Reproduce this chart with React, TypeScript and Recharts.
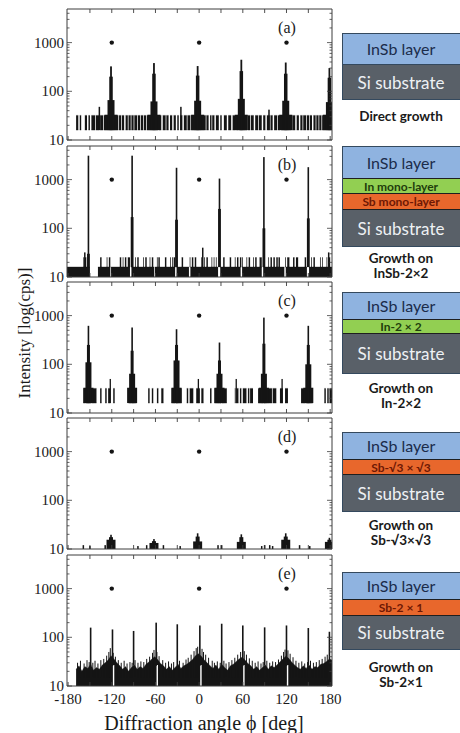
import React from "react";
import { ComposedChart, Area, Bar, Scatter, XAxis, YAxis, ReferenceLine } from "recharts";

type Seg = [number, number];
type Layer = { x: number[]; lo: number; top: number[]; size: number; fill?: string };

const INK = "#151515";
const AXIS = "#3c3c3c";
const SERIF = "'Liberation Serif', 'Times New Roman', serif";
const SANS = "Lato, 'Open Sans', sans-serif";

const X_DOMAIN: [number, number] = [-181.5, 182.5];
const Y_DOMAIN: [number, number] = [10, 4900];
const yTicks = [10, 20, 30, 40, 50, 60, 70, 80, 90, 100, 200, 300, 400, 500, 600, 700, 800, 900, 1000, 2000, 3000, 4000];
const yLabels = [10, 100, 1000];
const xTopTicks = [-150, -120, -90, -60, -30, 0, 30, 60, 90, 120, 150];
const xBottomTicks = [-180, -150, -120, -90, -60, -30, 0, 30, 60, 90, 120, 150, 180];
const xLabels = [-180, -120, -60, 0, 60, 120, 180];
const dotX = [-120, 0, 120];
const dotLevel = 1000;

// (a) direct growth
const aBand: Seg[] = [
  [-169, -166], [-164, -162], [-157, -154], [-152, -150], [-148, -143], [-142, -137], [-136, -132], [-131, -111],
  [-110, -107], [-106, -103], [-101, -98], [-97, -94], [-93, -90], [-89, -85], [-84, -81], [-80, -77], [-76, -73],
  [-72, -56], [-55, -52], [-50, -46], [-45, -42], [-40, -37], [-35, -32], [-30, -28], [-26, -23], [-21, -17],
  [-16, -12], [-11, 9], [10, 13], [15, 17], [18, 21], [23, 27], [29, 31], [34, 38], [40, 44], [46, 50], [51, 54],
  [55, 66], [67, 70], [71, 75], [77, 81], [82, 86], [88, 91], [93, 97], [98, 101], [103, 107], [108, 111],
  [112, 127], [128, 132], [134, 137], [139, 142], [143, 147], [148, 151], [152, 155], [157, 160], [161, 164],
  [165, 168], [169, 182.5],
];
const aPeakX = [-121, -62, -2, 58, 119, 179];
const aFoot = [33, 33, 33, 33, 33, 33];
const aShoulder = [66, 62, 64, 70, 64, 60];
const aMid = [200, 230, 210, 260, 230, 190];
const aTip = [325, 380, 330, 445, 390, 300];
const aTallX = [-137, -25, 96];
const aTallTop = [48, 48, 42];

// (b) growth on InSb-2x2
const bBase: Seg[] = [
  [-181.5, -150], [-139, -122], [-121, -95], [-93, -62], [-61, -33], [-31, -14], [-12, 26], [29, 57],
  [59, 86], [88, 117], [119, 148], [151, 182.5],
];
const bNoise: Seg[] = [
  [-159, -158], [-157, -155], [-136, -134], [-127, -126], [-124, -122], [-109, -107], [-105, -104], [-102, -100],
  [-98, -95], [-88, -87], [-85, -83], [-77, -76], [-74, -72], [-68, -67], [-65, -63], [-58, -57], [-56, -54],
  [-47, -45], [-40, -39], [-37, -36], [-35, -33], [-24, -22], [-13, -12], [-10, -8], [-6, -4], [3, 5], [7, 8],
  [10, 12], [17, 18], [20, 21], [23, 24], [33, 35], [42, 44], [49, 50], [52, 54], [56, 58], [59, 60], [65, 66],
  [68, 70], [74, 75], [77, 79], [83, 86], [95, 96], [98, 100], [102, 104], [106, 108], [109, 111], [118, 119],
  [121, 124], [129, 131], [133, 136], [145, 147], [154, 155], [157, 159], [166, 167], [169, 170], [175, 176],
  [178, 180],
];
const bPeakX = [-152, -92, -31, 28, 89, 150];
const bMid = [30, 170, 150, 250, 100, 160];
const bTip = [3100, 3100, 1750, 1050, 2900, 1800];
const bTallX = [-157, 5, 178];
const bTallTop = [32, 40, 32];

// (c) growth on In-2x2
const cBand: Seg[] = [
  [-159, -157], [-156, -148], [-147, -141], [-136, -134], [-129, -127], [-125, -122], [-118, -116], [-97, -93],
  [-92, -86], [-70, -68], [-65, -63], [-58, -56], [-52, -49], [-38, -33], [-32, -24], [-17, -15], [-13, -8],
  [-4, 1], [3, 6], [15, 17], [21, 27], [28, 30], [31, 38], [49, 50], [51, 54], [56, 58], [60, 65], [67, 69],
  [70, 74], [81, 88], [89, 100], [101, 106], [111, 115], [118, 122], [140, 146], [147, 156], [172, 174],
  [176, 178], [179, 182.5],
];
const cPeakX = [-152, -92, -31, 28, 89, 150];
const cFoot = [33, 33, 33, 33, 33, 33];
const cShoulder = [110, 64, 120, 64, 64, 100];
const cMid = [250, 190, 250, 120, 265, 250];
const cTip = [617, 570, 525, 280, 910, 617];
const cTallX = [-122, -1, 51, 114];
const cTallTop = [50, 50, 50, 50];

// (d) growth on Sb-√3x√3
const dPeakX = [-121, -62, -2, 58, 119, 179];
const dFoot = [15.5, 13.3, 14.3, 14, 15.5, 14];
const dMid = [17.5, 14.5, 18, 17.5, 18, 15.5];
const dTip = [19.6, 16, 21, 20, 21, 17];
const dSpeckX = [-159, -150, -129, -84, -72, -49, -26, 26, 31, 86, 90, 97, 101, 138, 152];
const dSpeckTop = [12, 11.5, 12, 11.5, 12, 12, 11.5, 12, 12, 11.5, 12, 12, 11.5, 12, 11.5];

// (e) growth on Sb-2x1
const eEnv: [number, number][] = [
  [-169, 22], [-165, 26], [-161, 20], [-157, 25], [-153, 23], [-149, 28], [-145, 21], [-141, 24], [-137, 22],
  [-133, 27], [-129, 30], [-125, 34], [-121, 42], [-117, 36], [-113, 30], [-109, 26], [-105, 22], [-101, 25],
  [-97, 20], [-93, 24], [-89, 27], [-85, 22], [-81, 25], [-77, 23], [-73, 28], [-69, 31], [-65, 36], [-61, 40],
  [-57, 35], [-53, 29], [-49, 26], [-45, 22], [-41, 25], [-37, 21], [-33, 24], [-29, 28], [-25, 23], [-21, 26],
  [-17, 28], [-13, 31], [-9, 35], [-5, 42], [-1, 46], [3, 41], [7, 34], [11, 30], [15, 26], [19, 23], [23, 27],
  [27, 22], [31, 28], [35, 24], [39, 21], [43, 26], [47, 28], [51, 32], [55, 36], [59, 39], [63, 34], [67, 29],
  [71, 26], [75, 22], [79, 25], [83, 21], [87, 24], [91, 27], [95, 22], [99, 26], [103, 24], [107, 27], [111, 31],
  [115, 36], [119, 41], [123, 37], [127, 31], [131, 27], [135, 24], [139, 22], [143, 26], [147, 23], [151, 27],
  [155, 22], [159, 25], [163, 24], [167, 28], [171, 29], [175, 32], [179, 36], [182.5, 34],
];
const eHairs: [number, number][] = [
  [-167, 30], [-163, 33], [-158, 29], [-154, 34], [-151, 31], [-146, 30], [-143, 33], [-139, 29], [-135, 34],
  [-131, 36], [-127, 42], [-124, 50], [-122, 60], [-118, 48], [-115, 40], [-111, 34], [-107, 30], [-103, 33],
  [-99, 29], [-95, 31], [-92, 30], [-88, 34], [-84, 30], [-80, 32], [-76, 31], [-72, 36], [-68, 40], [-64, 48],
  [-62, 55], [-58, 50], [-55, 41], [-50, 34], [-46, 30], [-42, 32], [-38, 29], [-35, 31], [-27, 33], [-22, 30],
  [-18, 35], [-15, 38], [-11, 44], [-7, 52], [-4, 60], [-2, 64], [4, 58], [6, 50], [9, 44], [13, 38], [18, 33],
  [21, 30], [25, 32], [29, 30], [34, 33], [37, 29], [41, 31], [45, 34], [49, 38], [53, 44], [57, 50], [62, 52],
  [65, 44], [69, 37], [73, 33], [77, 30], [81, 32], [85, 29], [88, 31], [93, 33], [97, 30], [101, 32], [105, 31],
  [109, 35], [113, 42], [116, 50], [118, 56], [122, 54], [125, 46], [129, 39], [133, 33], [137, 30], [141, 32],
  [145, 29], [149, 31], [153, 33], [157, 30], [161, 31], [165, 34], [169, 36], [173, 40], [176, 44],
];
const eSpikeX = [-149, -119, -90, -59, -30, 1, 31, 60, 90, 120, 150, 179];
const eSpikeTop = [158, 145, 135, 200, 185, 175, 190, 175, 160, 175, 155, 130];
const eGapX = [-117.5, -57.5, 2.5, 61.5, 121.5];
const eGapTop = [27, 27, 27, 27, 27];

const PANELS: { label: string; bands: { segs: Seg[]; lo: number; hi: number }[]; env?: [number, number][]; layers: Layer[] }[] = [
  {
    label: "(a)",
    bands: [{ segs: aBand, lo: 16, hi: 32 }],
    layers: [
      { x: aPeakX, lo: 16, top: aFoot, size: 13 },
      { x: aPeakX, lo: 16, top: aShoulder, size: 7 },
      { x: aPeakX, lo: 16, top: aMid, size: 3.5 },
      { x: aPeakX, lo: 16, top: aTip, size: 1.8 },
      { x: aTallX, lo: 16, top: aTallTop, size: 1.5 },
    ],
  },
  {
    label: "(b)",
    bands: [{ segs: bBase, lo: 10, hi: 16 }, { segs: bNoise, lo: 16, hi: 25 }],
    layers: [
      { x: bPeakX, lo: 16, top: bMid, size: 2.8 },
      { x: bPeakX, lo: 16, top: bTip, size: 1.6 },
      { x: bTallX, lo: 16, top: bTallTop, size: 1.5 },
    ],
  },
  {
    label: "(c)",
    bands: [{ segs: cBand, lo: 16, hi: 32 }],
    layers: [
      { x: cPeakX, lo: 16, top: cFoot, size: 10 },
      { x: cPeakX, lo: 16, top: cShoulder, size: 6 },
      { x: cPeakX, lo: 16, top: cMid, size: 3 },
      { x: cPeakX, lo: 16, top: cTip, size: 1.6 },
      { x: cTallX, lo: 16, top: cTallTop, size: 1.3 },
    ],
  },
  {
    label: "(d)",
    bands: [],
    layers: [
      { x: dPeakX, lo: 10, top: dFoot, size: 9 },
      { x: dPeakX, lo: 10, top: dMid, size: 4 },
      { x: dPeakX, lo: 10, top: dTip, size: 1.6 },
      { x: dSpeckX, lo: 10, top: dSpeckTop, size: 1.5 },
    ],
  },
  {
    label: "(e)",
    bands: [],
    env: eEnv,
    layers: [
      { x: eHairs.map((h) => h[0]), lo: 15, top: eHairs.map((h) => h[1]), size: 1 },
      { x: eGapX, lo: 10, top: eGapTop, size: 1.4, fill: "#ffffff" },
      { x: eSpikeX, lo: 26, top: eSpikeTop, size: 1.6 },
    ],
  },
];

const PLOT_TOPS = [9, 146, 282, 418, 555];
const PLOT_H = 131;
const CHART_W = 345;

const DIAGRAMS = [
  {
    top: 33,
    stripes: [
      { text: "InSb layer", h: 30, kind: "insb" },
      { text: "Si substrate", h: 35, kind: "si" },
    ],
    caption: ["Direct growth"],
    capTop: 109,
  },
  {
    top: 146,
    stripes: [
      { text: "InSb layer", h: 31, kind: "insb" },
      { text: "In mono-layer", h: 15, kind: "in" },
      { text: "Sb mono-layer", h: 16, kind: "sb" },
      { text: "Si substrate", h: 37, kind: "si" },
    ],
    caption: ["Growth on", "InSb-2×2"],
    capTop: 251,
  },
  {
    top: 292,
    stripes: [
      { text: "InSb layer", h: 26, kind: "insb" },
      { text: "In-2 × 2", h: 14, kind: "in" },
      { text: "Si substrate", h: 40, kind: "si" },
    ],
    caption: ["Growth on", "In-2×2"],
    capTop: 381,
  },
  {
    top: 432,
    stripes: [
      { text: "InSb layer", h: 26, kind: "insb" },
      { text: "Sb-√3 × √3", h: 15, kind: "sb" },
      { text: "Si substrate", h: 37, kind: "si" },
    ],
    caption: ["Growth on", "Sb-√3×√3"],
    capTop: 518,
  },
  {
    top: 572,
    stripes: [
      { text: "InSb layer", h: 26, kind: "insb" },
      { text: "Sb-2 × 1", h: 16, kind: "sb" },
      { text: "Si substrate", h: 34, kind: "si" },
    ],
    caption: ["Growth on", "Sb-2×1"],
    capTop: 660,
  },
];

const STRIPE_STYLE: Record<string, { bg: string; color: string; size: number; weight: number }> = {
  insb: { bg: "#8fb3e0", color: "#1b2c4b", size: 16, weight: 400 },
  si: { bg: "#596068", color: "#eef1f4", size: 17, weight: 400 },
  in: { bg: "#92cf52", color: "#213d0c", size: 12, weight: 700 },
  sb: { bg: "#e8672c", color: "#6e1804", size: 12, weight: 700 },
};

function bandRows(segs: Seg[], lo: number, hi: number) {
  const out: { x: number; v: [number, number] | null }[] = [];
  segs.forEach(([s, e]) => {
    out.push({ x: s, v: [lo, hi] }, { x: e, v: [lo, hi] }, { x: e, v: null });
  });
  return out;
}

// one row per drawn bar; k points back to the layer for its width and colour
function barRows(layers: Layer[]) {
  const rows: { x: number; v: [number, number]; k: number }[] = [];
  layers.forEach((layer, k) => layer.x.forEach((x, i) => rows.push({ x, v: [layer.lo, layer.top[i]], k })));
  return rows;
}

const LeftTick = (p: any) => {
  const v = p.payload.value;
  const major = yLabels.includes(v);
  const x0 = p.x + 3;
  return (
    <g>
      <line x1={x0} x2={x0 + (major ? 5 : 2.5)} y1={p.y} y2={p.y} stroke={AXIS} strokeWidth={0.8} />
      {major && (
        <text x={p.x} y={p.y} dy={5} textAnchor="end" fontSize={15} fontFamily={SERIF} fill="#1a1a1a">
          {v}
        </text>
      )}
    </g>
  );
};

const RightTick = (p: any) => {
  const major = yLabels.includes(p.payload.value);
  return <line x1={p.x} x2={p.x - (major ? 5 : 2.5)} y1={p.y} y2={p.y} stroke={AXIS} strokeWidth={0.8} />;
};

const TopTick = (p: any) => <line x1={p.x} x2={p.x} y1={p.y} y2={p.y + 4} stroke={AXIS} strokeWidth={0.9} />;

const makeBottomTick = (showLabel: boolean) => (p: any) => {
  const v = p.payload.value;
  return (
    <g>
      <line x1={p.x} x2={p.x} y1={p.y} y2={p.y - 4} stroke={AXIS} strokeWidth={0.9} />
      {showLabel && xLabels.includes(v) && (
        <text x={p.x} y={p.y} dy={18} textAnchor="middle" fontSize={15} fontFamily={SERIF} fill="#1a1a1a">
          {v}
        </text>
      )}
    </g>
  );
};

const DotShape = (p: any) => <circle cx={p.cx} cy={p.cy} r={2.2} fill={INK} />;

const makeBarShape = (layers: Layer[]) => (p: any) => {
  const layer = layers[p.payload.k];
  if (!layer || !(p.height > 0)) return <g />;
  const cx = p.x + p.width / 2;
  return <rect x={cx - layer.size / 2} y={p.y} width={layer.size} height={p.height} fill={layer.fill ?? INK} />;
};

function Panel({ index }: { index: number }) {
  const def = PANELS[index];
  const showX = index === PANELS.length - 1;
  const mt = 3;
  const mb = 3;
  const bottomH = showX ? 22 : 1;
  const height = PLOT_H + mt + 1 + mb + bottomH;
  const rows = barRows(def.layers);
  const dots = dotX.map((x) => ({ x, y: dotLevel }));
  const areas = def.bands.map((b) => bandRows(b.segs, b.lo, b.hi));
  if (def.env) areas.push(def.env.map(([x, v]) => ({ x, v: [10, v] as [number, number] })));

  return (
    <div style={{ position: "absolute", left: 0, top: PLOT_TOPS[index] - mt - 1, width: CHART_W, height }}>
      <ComposedChart width={CHART_W} height={height} data={rows} margin={{ top: mt, right: 12, bottom: mb, left: 0 }}>
        <XAxis
          xAxisId="x" orientation="bottom" type="number" dataKey="x" domain={X_DOMAIN} allowDataOverflow
          ticks={xBottomTicks} interval={0} height={bottomH} tickSize={0} tickMargin={0} tickLine={false}
          tick={makeBottomTick(showX)} axisLine={{ stroke: AXIS, strokeWidth: 1 }}
        />
        <XAxis
          xAxisId="top" orientation="top" type="number" dataKey="x" domain={X_DOMAIN} allowDataOverflow
          ticks={xTopTicks} interval={0} height={1} tickSize={0} tickMargin={0} tickLine={false}
          tick={TopTick} axisLine={false}
        />
        <YAxis
          yAxisId="left" type="number" scale="log" domain={Y_DOMAIN} allowDataOverflow ticks={yTicks}
          interval={0} width={67} tickSize={0} tickMargin={3} tickLine={false} tick={LeftTick}
          axisLine={{ stroke: AXIS, strokeWidth: 1 }}
        />
        <YAxis
          yAxisId="right" orientation="right" type="number" scale="log" domain={Y_DOMAIN} allowDataOverflow
          ticks={yTicks} interval={0} width={1} tickSize={0} tickMargin={0} tickLine={false} tick={RightTick}
          axisLine={{ stroke: AXIS, strokeWidth: 1 }}
        />
        <ReferenceLine xAxisId="x" yAxisId="left" y={Y_DOMAIN[1]} stroke={AXIS} strokeWidth={1} ifOverflow="visible" />
        {areas.map((data, k) => (
          <Area
            key={`a${k}`} data={data} xAxisId="x" yAxisId="left" dataKey="v" type="linear"
            stroke={INK} strokeWidth={0.4} fill={INK} fillOpacity={1} isAnimationActive={false}
          />
        ))}
        <Bar
          xAxisId="x" yAxisId="left" dataKey="v" barSize={1} shape={makeBarShape(def.layers)}
          fill={INK} isAnimationActive={false}
        />
        <Scatter data={dots} xAxisId="x" yAxisId="left" dataKey="y" shape={DotShape} isAnimationActive={false} />
      </ComposedChart>
      <div
        style={{
          position: "absolute", left: 272, top: mt + 10, width: 30, textAlign: "center",
          fontFamily: SERIF, fontSize: 16, lineHeight: "20px", color: "#1a1a1a",
        }}
      >
        {def.label}
      </div>
    </div>
  );
}

function Diagram({ d }: { d: (typeof DIAGRAMS)[number] }) {
  return (
    <>
      <div
        style={{
          position: "absolute", left: 342, top: d.top, width: 124, border: "1px solid #34495e",
          boxSizing: "border-box", fontFamily: SANS,
        }}
      >
        {d.stripes.map((s, i) => {
          const st = STRIPE_STYLE[s.kind];
          const thin = s.kind === "in" || s.kind === "sb";
          return (
            <div
              key={i}
              style={{
                height: s.h, background: st.bg, color: st.color, fontSize: st.size, fontWeight: st.weight,
                lineHeight: `${s.h}px`, textAlign: "center", paddingRight: 6, boxSizing: "border-box",
                borderTop: i > 0 ? `1px solid ${thin || d.stripes[i - 1].kind !== "insb" ? "#1f1f1f" : "#34495e"}` : "none",
                whiteSpace: "nowrap", overflow: "hidden",
              }}
            >
              {s.text}
            </div>
          );
        })}
      </div>
      <div
        style={{
          position: "absolute", left: 342, top: d.capTop, width: 118, textAlign: "center",
          fontFamily: SANS, fontSize: 13.5, fontWeight: 700, lineHeight: "15px", color: "#1a1a1a",
        }}
      >
        {d.caption.map((c, i) => (
          <div key={i}>{c}</div>
        ))}
      </div>
    </>
  );
}

export default function App() {
  return (
    <div style={{ position: "relative", width: 460, height: 733, overflow: "hidden", background: "#fff" }}>
      <style>{"body{margin:0} .recharts-wrapper, .recharts-surface{overflow:visible !important}"}</style>
      {PANELS.map((_, i) => (
        <Panel key={i} index={i} />
      ))}
      {DIAGRAMS.map((d, i) => (
        <Diagram key={i} d={d} />
      ))}
      <div
        style={{
          position: "absolute", left: 25, top: 333, transform: "translate(-50%, -50%) rotate(-90deg)",
          whiteSpace: "nowrap", fontFamily: SERIF, fontSize: 17, color: "#1a1a1a",
        }}
      >
        Intensity [log(cps)]
      </div>
      <div
        style={{
          position: "absolute", left: 204, top: 712, transform: "translateX(-50%)", whiteSpace: "nowrap",
          fontFamily: SERIF, fontSize: 20, color: "#1a1a1a",
        }}
      >
        Diffraction angle ϕ [deg]
      </div>
    </div>
  );
}
